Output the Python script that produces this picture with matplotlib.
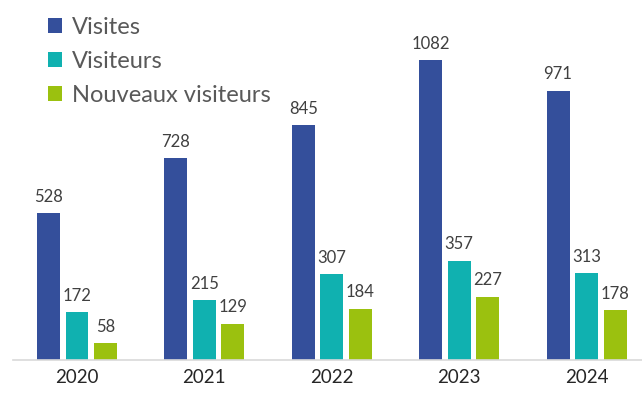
#!/usr/bin/env python3
import numpy as np
import matplotlib
matplotlib.use("Agg")
import matplotlib.pyplot as plt

plt.rcParams['font.family'] = ['Lato', 'DejaVu Sans']

years = ['2020', '2021', '2022', '2023', '2024']
visites = [528, 728, 845, 1082, 971]
visiteurs = [172, 215, 307, 357, 313]
nouveaux = [58, 129, 184, 227, 178]

series = [
    ('Visites', visites, '#344F9B'),
    ('Visiteurs', visiteurs, '#10B1B0'),
    ('Nouveaux visiteurs', nouveaux, '#9BC10F'),
]

fig = plt.figure(figsize=(6.42, 4.0), dpi=100)
left = 13.3 / 642
ax = fig.add_axes([left, 40.5 / 400, 1 - left, 1 - 40.5 / 400])

x = np.arange(len(years))
w = 0.18
step = 0.224
handles = []
for i, (name, vals, col) in enumerate(series):
    pos = x + (i - 1) * step
    b = ax.bar(pos, vals, width=w, color=col, label=name)
    handles.append(b)
    for p, v in zip(pos, vals):
        ax.text(p, v + 30, str(v), ha='center', va='bottom',
                fontsize=12, color='#404040')

ax.set_xlim(-0.5, (642 - 77) / 127.4)
ax.set_ylim(0, 1298)
ax.set_yticks([])
ax.set_xticks(x)
ax.set_xticklabels(years, fontsize=13.5, color='#262626')
ax.tick_params(axis='x', length=0, pad=7)
for s in ['top', 'right', 'left']:
    ax.spines[s].set_visible(False)
ax.spines['bottom'].set_color('#D9D9D9')
ax.spines['bottom'].set_linewidth(1.2)

fig.legend(handles=handles, loc='upper left', bbox_to_anchor=(0.049, 1.0),
           frameon=False, fontsize=17, labelcolor='#595959',
           handlelength=0.6, handleheight=0.6, handletextpad=0.4,
           labelspacing=0.55, borderpad=0.2)

fig.savefig('out.png', dpi=100)
